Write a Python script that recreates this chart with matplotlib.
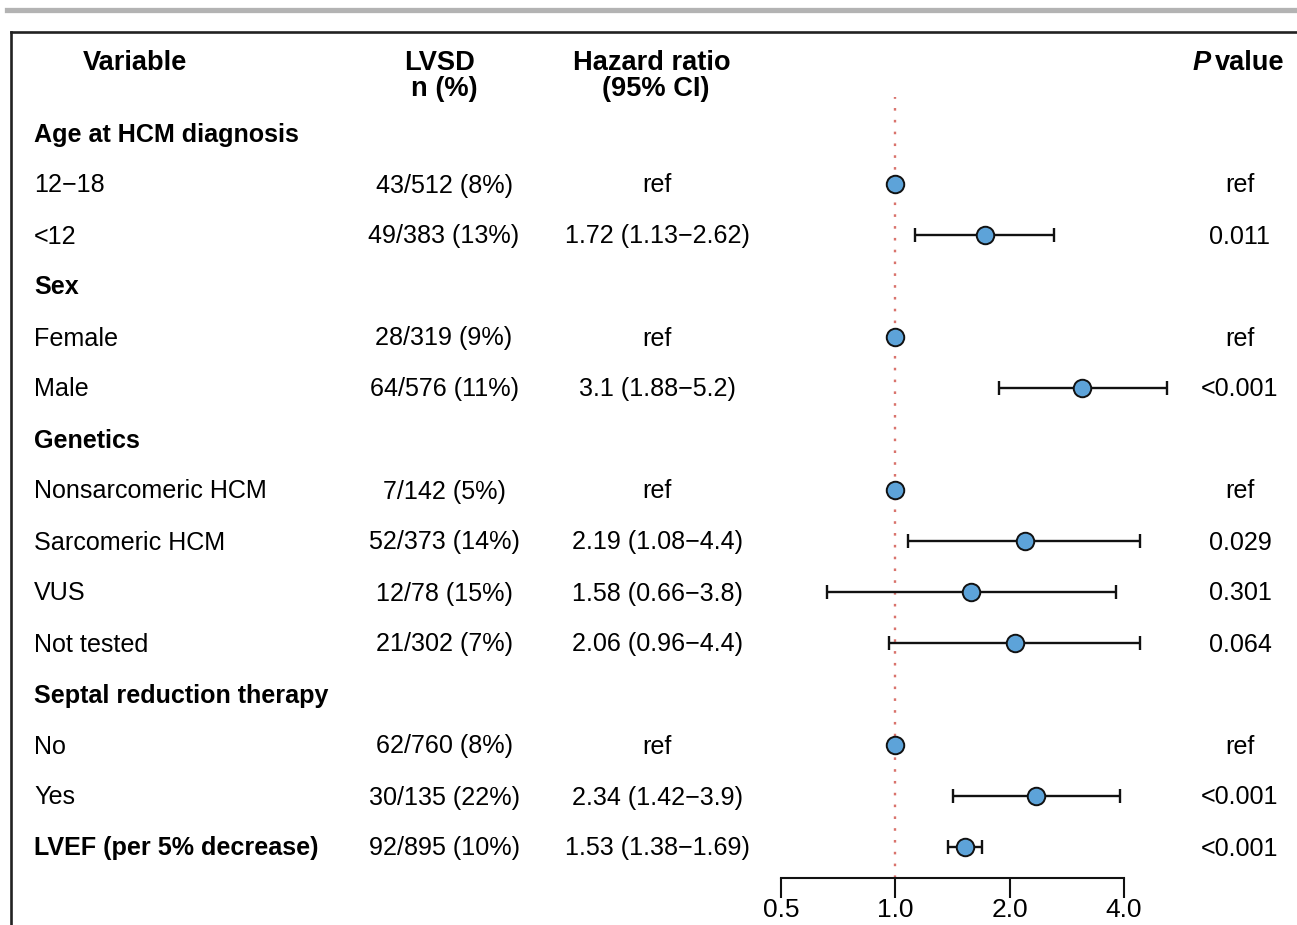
import matplotlib
matplotlib.use("Agg")
import matplotlib.pyplot as plt
from matplotlib.lines import Line2D
import numpy as np

plt.rcParams['font.family'] = ['Liberation Sans', 'DejaVu Sans']

# ---- data ----
row_labels = ["Age at HCM diagnosis", "12\u221218", "<12",
              "Sex", "Female", "Male",
              "Genetics", "Nonsarcomeric HCM", "Sarcomeric HCM", "VUS", "Not tested",
              "Septal reduction therapy", "No", "Yes",
              "LVEF (per 5% decrease)"]
row_bold = [True, False, False,
            True, False, False,
            True, False, False, False, False,
            True, False, False,
            True]
lvsd_text = ["", "43/512 (8%)", "49/383 (13%)",
             "", "28/319 (9%)", "64/576 (11%)",
             "", "7/142 (5%)", "52/373 (14%)", "12/78 (15%)", "21/302 (7%)",
             "", "62/760 (8%)", "30/135 (22%)",
             "92/895 (10%)"]
hr = [np.nan, 1.0, 1.72,
      np.nan, 1.0, 3.1,
      np.nan, 1.0, 2.19, 1.58, 2.06,
      np.nan, 1.0, 2.34,
      1.53]
ci_low = [np.nan, np.nan, 1.13,
          np.nan, np.nan, 1.88,
          np.nan, np.nan, 1.08, 0.66, 0.96,
          np.nan, np.nan, 1.42,
          1.38]
ci_high = [np.nan, np.nan, 2.62,
           np.nan, np.nan, 5.2,
           np.nan, np.nan, 4.4, 3.8, 4.4,
           np.nan, np.nan, 3.9,
           1.69]
is_ref = [False, True, False,
          False, True, False,
          False, True, False, False, False,
          False, True, False,
          False]
p_text = ["", "ref", "0.011",
          "", "ref", "<0.001",
          "", "ref", "0.029", "0.301", "0.064",
          "", "ref", "<0.001",
          "<0.001"]
x_ticks = [0.5, 1.0, 2.0, 4.0]
x_tick_labels = ["0.5", "1.0", "2.0", "4.0"]

# ---- layout helpers (pixel coordinates, origin top-left) ----
W, H = 1297, 925
fig = plt.figure(figsize=(W / 100, H / 100), dpi=100)

def fx(px):
    return px / W

def fy(py):
    return 1 - py / H

FS = 18.1      # table body
FS_HEAD = 19.6 # column headers
FS_TICK = 19.0
row0, drow = 133, 51.0
TXT_DY = 1.5   # text baseline nudge

def row_y(i):
    return row0 + drow * i

# decorative frame
fig.add_artist(Line2D([fx(7), fx(W)], [fy(10), fy(10)], color='#B3B3B3', lw=3.8))
fig.add_artist(Line2D([fx(11), fx(W)], [fy(32), fy(32)], color='#222222', lw=1.9,
                      solid_capstyle='projecting'))
fig.add_artist(Line2D([fx(11), fx(11)], [fy(32), fy(H)], color='#222222', lw=1.9))

# column headers
hdr = dict(va='center', fontsize=FS_HEAD, fontweight='bold')
fig.text(fx(135), fy(62.5), "Variable", ha='center', **hdr)
fig.text(fx(440), fy(62.5), "LVSD", ha='center', **hdr)
fig.text(fx(444), fy(88.5), "n (%)", ha='center', **hdr)
fig.text(fx(652), fy(62.5), "Hazard ratio", ha='center', **hdr)
fig.text(fx(656), fy(88.5), "(95% CI)", ha='center', **hdr)
fig.text(fx(1211), fy(62.5), "P", ha='right', fontstyle='italic', **hdr)
fig.text(fx(1215), fy(62.5), "value", ha='left', **hdr)

# table text
for i, lab in enumerate(row_labels):
    y = fy(row_y(i) + TXT_DY)
    fig.text(fx(34), y, lab, ha='left', va='center', fontsize=FS,
             fontweight='bold' if row_bold[i] else 'normal')
    if lvsd_text[i]:
        fig.text(fx(444), y, lvsd_text[i], ha='center', va='center', fontsize=FS)
    if not np.isnan(hr[i]):
        if is_ref[i]:
            hr_str = "ref"
        else:
            hr_str = f"{hr[i]:g} ({ci_low[i]:g}\u2212{ci_high[i]:g})"
        fig.text(fx(657), y, hr_str, ha='center', va='center', fontsize=FS)
    if p_text[i]:
        fig.text(fx(1240), y, p_text[i], ha='center', va='center', fontsize=FS)

# ---- forest panel ----
ax_left, ax_right = 700, 1200
ax_top, ax_bot = 97, 878
ax = fig.add_axes([fx(ax_left), fy(ax_bot), (ax_right - ax_left) / W, (ax_bot - ax_top) / H])
ax.set_xscale('log', base=2)
ppu = (1124 - 781) / 3.0  # pixels per doubling
lo = 2 ** (-1 - (781 - ax_left) / ppu)
hi = 2 ** (2 + (ax_right - 1124) / ppu)
ax.set_xlim(lo, hi)
ax.set_ylim((ax_bot - row0) / drow, (ax_top - row0) / drow)
ax.patch.set_visible(False)

ax.axvline(1.0, color='#D9736C', lw=1.7, linestyle=(0, (1.1, 3.9)), zorder=1)

rows = np.arange(len(hr))
for i in rows:
    if np.isnan(hr[i]):
        continue
    if not np.isnan(ci_low[i]):
        ax.errorbar(hr[i], i, xerr=[[hr[i] - ci_low[i]], [ci_high[i] - hr[i]]],
                    fmt='none', ecolor='#111111', elinewidth=1.7, capsize=5.2,
                    capthick=1.7, zorder=2)
    ax.plot(hr[i], i, 'o', ms=12.6, mfc='#5DA3D9', mec='#111111', mew=1.4, zorder=3)

for s in ['top', 'right', 'left']:
    ax.spines[s].set_visible(False)
ax.spines['bottom'].set_bounds(x_ticks[0], x_ticks[-1])
ax.spines['bottom'].set_linewidth(1.5)
ax.spines['bottom'].set_color('#111111')
ax.set_yticks([])
ax.set_xticks(x_ticks)
ax.set_xticklabels(x_tick_labels)
ax.minorticks_off()
ax.tick_params(axis='x', direction='out', length=14.5, width=1.5, color='#111111',
               pad=0.0, labelsize=FS_TICK)

fig.savefig("out.png", dpi=100)
